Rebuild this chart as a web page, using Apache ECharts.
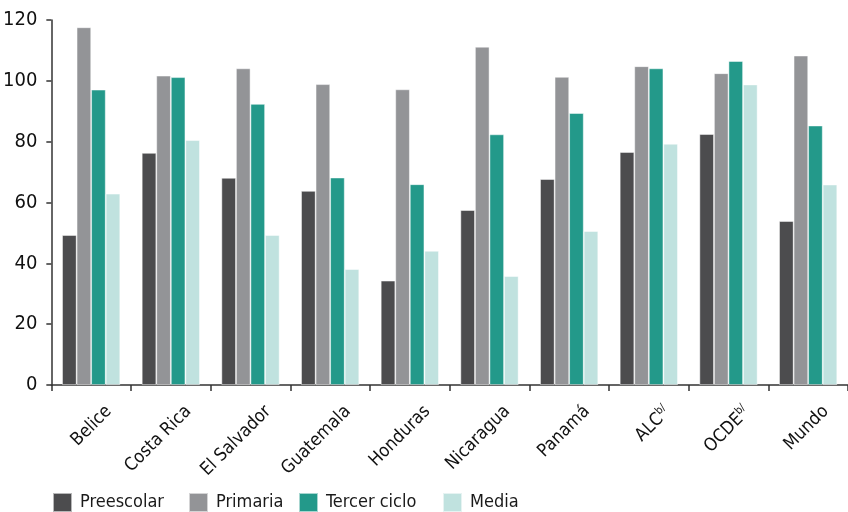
<!DOCTYPE html>
<html>
<head>
<meta charset="utf-8">
<script src="https://cdn.jsdelivr.net/npm/echarts@6/dist/echarts.min.js"></script>
<style>
html,body{margin:0;padding:0;background:#fff;}
#chart{width:848px;height:512px;}
</style>
</head>
<body>
<div id="chart"></div>
<script>
const categories = ['Belice','Costa Rica','El Salvador','Guatemala','Honduras','Nicaragua','Panamá','ALC','OCDE','Mundo'];
const superscripts = { 'ALC': 'b/', 'OCDE': 'b/' };
const seriesNames = ['Preescolar','Primaria','Tercer ciclo','Media'];
const preescolar = [49.3, 76.3, 68.1, 63.8, 34.3, 57.5, 67.7, 76.6, 82.5, 53.9];
const primaria   = [117.6, 101.7, 104.1, 98.9, 97.2, 111.2, 101.3, 104.8, 102.5, 108.3];
const tercerCiclo= [97.1, 101.2, 92.4, 68.2, 66.0, 82.4, 89.4, 104.1, 106.5, 85.3];
const media      = [62.9, 80.5, 49.3, 38.1, 44.1, 35.8, 50.6, 79.3, 98.8, 65.9];
const yTicks = [0, 20, 40, 60, 80, 100, 120];

const colors = ['#4c4c4e','#939497','#23998a','#c0e2df'];
const FONT = '"DejaVu Sans Condensed","Liberation Sans Narrow",sans-serif';
const legendLeft = [52, 188, 298, 442];

const chart = echarts.init(document.getElementById('chart'), null, {renderer:'canvas'});
const values = [preescolar, primaria, tercerCiclo, media];
chart.setOption({
  animation: false,
  color: colors,
  textStyle: { fontFamily: FONT },
  grid: { left: 50, top: 20, height: 365, width: 806, containLabel: false },
  legend: seriesNames.map((n, i) => ({
    left: legendLeft[i], top: 492, padding: 0,
    itemWidth: 19, itemHeight: 19,
    icon: 'rect',
    textStyle: { fontFamily: FONT, fontSize: 18, color: '#1a1a1a', padding: [0,0,0,3] },
    data: [n]
  })),
  xAxis: {
    type: 'category',
    data: categories,
    axisLine: { lineStyle: { color: '#333', width: 1.5 } },
    axisTick: { show: true, length: 6, lineStyle: { color: '#333', width: 1.5 } },
    axisLabel: {
      rotate: 45, interval: 0, margin: 6,
      verticalAlign: 'top', padding: [16,0,0,0],
      fontFamily: FONT, fontSize: 18, color: '#111',
      formatter: v => superscripts[v] ? v + '{sup|' + superscripts[v] + '}' : v,
      rich: { sup: { fontFamily: FONT, fontSize: 11, color: '#111', verticalAlign: 'top', padding: [0,0,10,0] } }
    }
  },
  yAxis: {
    type: 'value', min: yTicks[0], max: yTicks[yTicks.length-1], interval: 20,
    axisLine: { show: true, lineStyle: { color: '#333', width: 1.5 } },
    axisTick: { show: true, length: 5, lineStyle: { color: '#333', width: 1.5 } },
    splitLine: { show: false },
    axisLabel: { fontFamily: FONT, fontSize: 20, color: '#111', margin: 14 }
  },
  series: seriesNames.map((n, i) => ({
    name: n, type: 'bar', data: values[i],
    barGap: '0%', barCategoryGap: '27%',
    itemStyle: { borderColor: 'rgba(255,255,255,0.6)', borderWidth: 0.8 }
  }))
});
</script>
</body>
</html>
